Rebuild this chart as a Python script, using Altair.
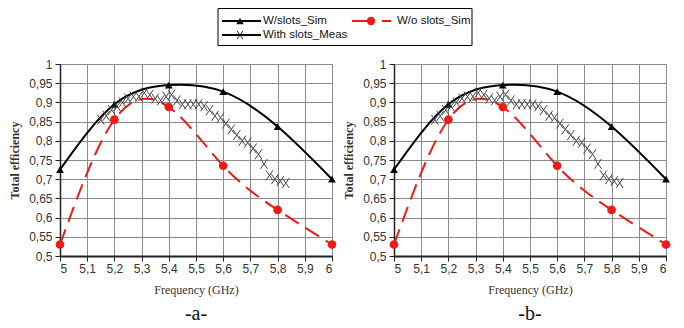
import altair as alt
import pandas as pd

# ---- data ----
sim_freq = [5.0, 5.2, 5.4, 5.6, 5.8, 6.0]
sim_eff = [0.725, 0.895, 0.945, 0.928, 0.837, 0.700]

wo_freq = [5.0, 5.2, 5.4, 5.6, 5.8, 6.0]
wo_eff = [0.530, 0.855, 0.888, 0.735, 0.620, 0.530]

meas_freq = [5.15, 5.17, 5.19, 5.21, 5.23, 5.25, 5.27, 5.29, 5.31, 5.33, 5.35, 5.37,
             5.39, 5.41, 5.43, 5.45, 5.47, 5.49, 5.51, 5.53, 5.55, 5.57, 5.59, 5.61,
             5.63, 5.65, 5.67, 5.69, 5.71, 5.73, 5.75, 5.77, 5.79, 5.81, 5.83]
meas_eff = [0.855, 0.865, 0.880, 0.890, 0.900, 0.910, 0.915, 0.915, 0.925, 0.920, 0.910, 0.905,
            0.915, 0.920, 0.905, 0.895, 0.895, 0.895, 0.895, 0.890, 0.880, 0.865, 0.860, 0.845,
            0.830, 0.815, 0.800, 0.795, 0.780, 0.765, 0.740, 0.710, 0.700, 0.695, 0.690]

x_ticks = [5.0, 5.1, 5.2, 5.3, 5.4, 5.5, 5.6, 5.7, 5.8, 5.9, 6.0]
y_ticks = [0.5, 0.55, 0.6, 0.65, 0.7, 0.75, 0.8, 0.85, 0.9, 0.95, 1.0]

series_names = ["W/slots_Sim", "W/o slots_Sim", "With slots_Meas"]
panel_labels = ["-a-", "-b-"]

RED = "#ee1a1a"
XPATH = "M-0.7,-1L0.7,1M-0.7,1L0.7,-1"

sim_df = pd.DataFrame({"f": sim_freq, "v": sim_eff})
wo_df = pd.DataFrame({"f": wo_freq, "v": wo_eff})
meas_df = pd.DataFrame({"f": meas_freq, "v": meas_eff})

PW, PH = 272, 192

xscale = alt.Scale(domain=[5, 6], nice=False, zero=False)
yscale = alt.Scale(domain=[0.5, 1.0], nice=False, zero=False)

xaxis = alt.Axis(values=x_ticks, labelExpr="replace(toString(datum.value), '.', ',')",
                 grid=True, gridColor="#8c8c8c", gridWidth=1,
                 domainColor="#222", domainWidth=2, tickColor="#222", tickSize=5,
                 labelFont="Liberation Sans", labelFontSize=12, labelColor="#333",
                 labelPadding=2, title="Frequency (GHz)", titleFont="Liberation Serif",
                 titleFontSize=12, titleFontWeight="normal", titleColor="#333", titlePadding=10)
yaxis = alt.Axis(values=y_ticks, labelExpr="replace(toString(datum.value), '.', ',')",
                 grid=True, gridColor="#8c8c8c", gridWidth=1,
                 domainColor="#222", domainWidth=1.5, tickColor="#222", tickSize=5,
                 labelFont="Liberation Sans", labelFontSize=12, labelColor="#333",
                 labelPadding=3, title="Total efficiency", titleFont="Liberation Serif",
                 titleFontSize=12, titleFontWeight="bold", titleColor="#333", titlePadding=7)


def panel(label):
    X = alt.X("f:Q", scale=xscale, axis=xaxis)
    Y = alt.Y("v:Q", scale=yscale, axis=yaxis)
    sim_line = alt.Chart(sim_df).mark_line(color="black", strokeWidth=2, interpolate="natural").encode(x=X, y=Y)
    wo_line = alt.Chart(wo_df).mark_line(color=RED, strokeWidth=2, strokeDash=[16, 8],
                                         interpolate="natural").encode(x=X, y=Y)
    sim_pts = alt.Chart(sim_df).mark_point(shape="triangle-up", filled=True, color="black",
                                           size=60, opacity=1).encode(x=X, y=Y)
    wo_pts = alt.Chart(wo_df).mark_point(shape="circle", filled=True, color=RED,
                                         size=75, opacity=1).encode(x=X, y=Y)
    meas_pts = alt.Chart(meas_df).mark_point(shape=XPATH, filled=False, color="#444",
                                             strokeWidth=1, size=100, opacity=1).encode(x=X, y=Y)
    return alt.layer(sim_line, wo_line, sim_pts, wo_pts, meas_pts).properties(
        width=PW, height=PH,
        title=alt.TitleParams(text=label, orient="bottom", anchor="middle", font="Liberation Serif",
                              fontSize=20, fontWeight="normal", color="#111", offset=9),
    )


# ---- legend (drawn as its own small chart above the panels) ----
LW = PW + 62 + PW  # spans from left of panel a to right of panel b
LH = 38
lx = alt.Scale(domain=[0, LW], nice=False, zero=False)
ly = alt.Scale(domain=[LH, 0], nice=False, zero=False)

box_df = pd.DataFrame({"x": [158], "x2": [412], "y": [0.5], "y2": [LH - 0.5]})
seg_df = pd.DataFrame({
    "x": [162, 292, 322, 162],
    "x2": [201, 310, 331, 201],
    "y": [13, 13, 13, 27],
    "c": ["black", RED, RED, "black"],
})
tri_df = pd.DataFrame({"x": [180], "y": [13]})
cir_df = pd.DataFrame({"x": [311], "y": [13]})
xm_df = pd.DataFrame({"x": [180], "y": [27]})
txt_df = pd.DataFrame({"x": [203, 337, 203], "y": [13, 13, 27], "t": series_names})

LX = alt.X("x:Q", scale=lx, axis=None)
LY = alt.Y("y:Q", scale=ly, axis=None)
legend = alt.layer(
    alt.Chart(box_df).mark_rect(fill="white", stroke="black", strokeWidth=1).encode(
        x=LX, x2="x2:Q", y=LY, y2="y2:Q"),
    alt.Chart(seg_df).mark_rule(strokeWidth=2).encode(
        x=LX, x2="x2:Q", y=LY, color=alt.Color("c:N", scale=None)),
    alt.Chart(tri_df).mark_point(shape="triangle-up", filled=True, color="black", size=55, opacity=1).encode(x=LX, y=LY),
    alt.Chart(cir_df).mark_point(shape="circle", filled=True, color=RED, size=70, opacity=1).encode(x=LX, y=LY),
    alt.Chart(xm_df).mark_point(shape=XPATH, filled=False, color="#222", strokeWidth=1, size=70, opacity=1).encode(x=LX, y=LY),
    alt.Chart(txt_df).mark_text(align="left", baseline="middle", font="Liberation Sans", fontSize=11.5,
                                color="#111").encode(x=LX, y=LY, text="t:N"),
).properties(width=LW, height=LH, view=alt.ViewBackground(strokeOpacity=0))

panels = alt.hconcat(panel(panel_labels[0]), panel(panel_labels[1]), spacing=62, bounds="flush")

chart = alt.vconcat(legend, panels, spacing=18, bounds="flush").properties(
    padding={"left": 0, "top": 0, "right": 0, "bottom": 0},
    background="white",
).configure_view(stroke="#8c8c8c", strokeWidth=1)

chart.save("out.html", embed_options={"renderer": "svg", "actions": False})
